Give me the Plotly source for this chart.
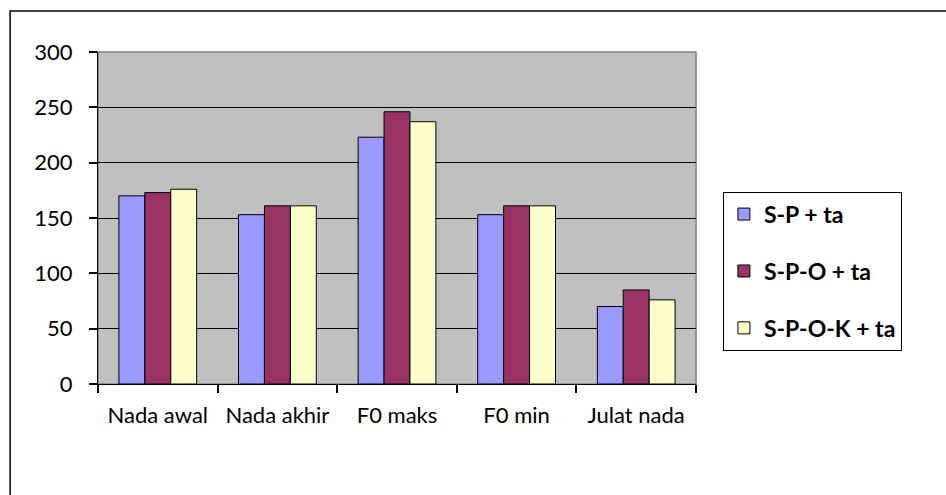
import plotly.graph_objects as go

categories = ["Nada awal", "Nada akhir", "F0 maks", "F0 min", "Julat nada"]
series_names = ["S-P + ta", "S-P-O + ta", "S-P-O-K + ta"]
sp_ta = [170, 153, 223, 153, 70]
spo_ta = [173, 161, 246, 161, 85]
spok_ta = [176, 161, 237, 161, 76]
y_ticks = [0, 50, 100, 150, 200, 250, 300]

colors = ["#9999FF", "#993366", "#FFFFCC"]
values = [sp_ta, spo_ta, spok_ta]

fig = go.Figure()
for i, (name, vals) in enumerate(zip(series_names, values)):
    fig.add_trace(go.Bar(
        x=categories, y=vals, name=name, legendgroup=name,
        marker=dict(color=colors[i], line=dict(color="black", width=1)),
    ))

font = "Lato, Carlito, 'Open Sans', sans-serif"
fig.update_layout(
    width=946, height=495,
    margin=dict(l=98, r=250, t=52, b=111),
    paper_bgcolor="white", plot_bgcolor="#C0C0C0",
    barmode="group", bargap=0.35, bargroupgap=0,
    font=dict(family=font, size=22, color="black"),
    showlegend=True,
    legend=dict(
        x=1.045, y=0.34, xanchor="left", yanchor="middle",
        bordercolor="black", borderwidth=1, bgcolor="white",
        font=dict(family=font, size=23, color="black", weight="bold"),
        tracegroupgap=24, itemwidth=30,
    ),
    xaxis=dict(
        showline=True, linecolor="black", linewidth=1,
        ticks="outside", ticklen=8, tickwidth=1.5, tickcolor="black", tickson="boundaries",
        showgrid=False, tickfont=dict(size=22), tickangle=0,
        ticklabelstandoff=12,
    ),
    yaxis=dict(
        range=[0, 300], tickvals=y_ticks,
        showline=True, linecolor="black", linewidth=1,
        ticks="outside", ticklen=8, tickwidth=1.5, tickcolor="black",
        showgrid=True, gridcolor="black", gridwidth=1,
        zeroline=False, tickfont=dict(size=22),
        ticklabelstandoff=12,
    ),
    shapes=[
        dict(type="rect", xref="paper", yref="paper", x0=0, x1=1, y0=0, y1=1,
             line=dict(color="#808080", width=1.5), layer="below"),
        dict(type="rect", xref="paper", yref="paper",
             x0=-0.147, x1=1.43, y0=-0.35, y1=1.1235,
             line=dict(color="black", width=1.5)),
    ],
)

fig.write_html("out.html", config={"displayModeBar": False},
               post_script="document.body.style.margin='0';document.body.style.overflow='hidden';")
